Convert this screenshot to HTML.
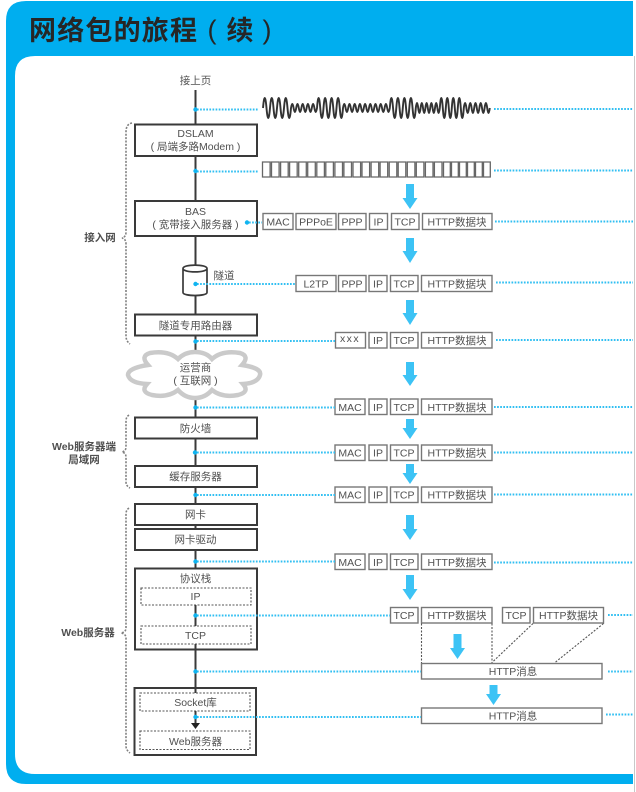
<!DOCTYPE html>
<html><head><meta charset="utf-8"><style>
html,body{margin:0;padding:0;background:#fff;width:636px;height:792px;overflow:hidden}
svg{display:block}
text{font-family:"Liberation Sans","Noto Sans CJK SC",sans-serif;font-size:10.5px;fill:#505050;text-anchor:middle}
.b{fill:#fff;stroke:#3a3a3a;stroke-width:2}
.d{fill:#fff;stroke:#555;stroke-width:1.1;stroke-dasharray:2 1.5}
.p{fill:#fff;stroke:#777;stroke-width:1.4}
.c{stroke:#30bff2;stroke-width:2;stroke-dasharray:1.7 1.4;fill:none}
.l{stroke:#3a3a3a;stroke-width:2;fill:none}
.br{stroke:#808080;stroke-width:1.6;stroke-dasharray:2 1.4;fill:none}
.o{fill:#10b4f0}
.a{fill:#3cc3f5}
.h{font-weight:bold;fill:#505050}
.t{font-size:27px;font-weight:bold;fill:#262626}
</style></head><body>
<svg width="636" height="792" viewBox="0 0 636 792" xmlns="http://www.w3.org/2000/svg">
<path d="M6 21Q6 1 26 1H633V784H26Q6 784 6 764Z" fill="#00aeef"/>
<path d="M15 76Q15 56 35 56H633V774H35Q15 774 15 754Z" fill="#fff"/>
<rect x="634" y="56" width="1" height="736" fill="#c8c8c8"/>
<text class="t" x="29" y="40" style="text-anchor:start;letter-spacing:1.2px">网络包的旅程</text>
<text class="t" x="212" y="39" style="font-weight:normal">(</text>
<text class="t" x="240" y="40">续</text>
<text class="t" x="267" y="39" style="font-weight:normal">)</text>

<line class="l" x1="195.5" y1="90" x2="195.5" y2="568"/>

<text x="195.5" y="84">接上页</text>
<rect class="b" x="135" y="124.5" width="122" height="31.5"/>
<text x="195.5" y="137">DSLAM</text><text x="195.5" y="150">( 局端多路Modem )</text>
<rect class="b" x="135" y="201" width="122" height="35"/>
<text x="195.5" y="215">BAS</text><text x="195.5" y="228">( 宽带接入服务器 )</text>
<path d="M183 268.5V292.5C183 296.5 207 296.5 207 292.5V268.5C207 264 183 264 183 268.5ZM183 268.5C183 273 207 273 207 268.5" fill="#fff" stroke="#3a3a3a" stroke-width="1.7"/>
<text x="224" y="279">隧道</text>
<rect class="b" x="135" y="314.5" width="122" height="21"/>
<text x="195.5" y="329">隧道专用路由器</text>
<path d="M195 352Q206 352 212 359Q222 350 240 353Q250 356 242 365Q262 368 260 375Q258 383 243 384Q250 392 238 395Q222 398 212 390Q205 398 195 398Q185 398 178 390Q168 398 152 395Q140 392 147 384Q130 383 128 375Q128 368 148 365Q140 356 150 353Q168 350 178 359Q185 352 195 352Z" fill="#fff" stroke="#cacaca" stroke-width="4.5"/>
<text x="195.5" y="371">运营商</text><text x="195.5" y="384">( 互联网 )</text>
<rect class="b" x="135" y="417.5" width="122" height="21"/>
<text x="195.5" y="432">防火墙</text>
<rect class="b" x="135" y="466" width="122" height="21"/>
<text x="195.5" y="480">缓存服务器</text>
<rect class="b" x="135" y="504" width="122" height="21"/>
<text x="195.5" y="518">网卡</text>
<rect class="b" x="135" y="529" width="122" height="21"/>
<text x="195.5" y="543">网卡驱动</text>
<rect class="b" x="135" y="568.5" width="122" height="81"/>
<text x="195.5" y="582">协议栈</text>
<rect class="d" x="141" y="588" width="110" height="17"/>
<text x="195.5" y="600">IP</text>
<rect class="d" x="141" y="626" width="110" height="18"/>
<text x="195.5" y="639">TCP</text>
<rect class="b" x="134.5" y="688" width="121.5" height="67"/>
<rect class="d" x="140" y="693" width="110" height="18"/>
<text x="195.5" y="706">Socket库</text>
<rect class="d" x="140" y="731" width="110" height="18.5"/>
<text x="195.5" y="745">Web服务器</text>
<line class="l" x1="195.5" y1="605" x2="195.5" y2="626"/>
<line class="l" x1="195.5" y1="644" x2="195.5" y2="693"/>
<line class="l" x1="195.5" y1="711" x2="195.5" y2="723"/>
<path d="M191 723H200L195.5 729Z" fill="#222"/>

<path class="br" d="M132 123Q126 124 126 132V232Q126 237 122 238Q126 239 126 244V336Q126 341 130 344"/>
<path class="br" d="M129 415Q126 417 126 421V447Q126 451 122 452Q126 453 126 457V482Q126 486 130 488"/>
<path class="br" d="M129 508Q126 510 126 514V628Q126 632 121 633Q126 634 126 638V746Q126 750 130 753"/>
<text class="h" x="100" y="241">接入网</text>
<text class="h" x="84" y="450">Web服务器端</text>
<text class="h" x="84" y="463">局域网</text>
<text class="h" x="88" y="636">Web服务器</text>

<path d="M263 108q1.75 -20 3.5 0t3.5 0t3.5 0t3.5 0t3.5 0t3.5 0t3.5 0t3.5 0q1.3 -8 2.6 0t2.6 0t2.6 0t2.6 0t2.6 0t2.6 0t2.6 0t2.6 0t2.6 0t2.6 0q1.6 -20 3.25 0t3.25 0t3.25 0t3.25 0t3.25 0t3.25 0t3.25 0t3.25 0q1.3 -8 2.6 0t2.6 0t2.6 0t2.6 0t2.6 0t2.6 0t2.6 0t2.6 0t2.6 0t2.6 0t2.6 0t2.6 0t2.6 0t2.6 0t2.6 0t2.6 0t2.6 0t2.6 0q1.6 -20 3.25 0t3.25 0t3.25 0t3.25 0t3.25 0t3.25 0t3.25 0t3.25 0q1.2 -10 2.4 0t2.4 0t2.4 0t2.4 0t2.4 0t2.4 0t2.4 0t2.4 0t2.4 0t2.4 0q1.5 -20 3 0t3 0t3 0t3 0t3 0t3 0t3 0t3 0q1.3 -10 2.6 0t2.6 0t2.6 0t2.6 0t2.6 0t2.6 0t2.6 0t2.6 0t2.6 0t2.6 0" fill="none" stroke="#333" stroke-width="1.9"/>

<path d="M262.5 162h7.6v15h-7.6zM271.5 162h7.6v15h-7.6zM280.6 162h7.6v15h-7.6zM289.6 162h7.6v15h-7.6zM298.7 162h7.6v15h-7.6zM307.7 162h7.6v15h-7.6zM316.8 162h7.6v15h-7.6zM325.8 162h7.6v15h-7.6zM334.9 162h7.6v15h-7.6zM343.9 162h7.6v15h-7.6zM353 162h7.6v15h-7.6zM362 162h7.6v15h-7.6zM371.1 162h7.6v15h-7.6zM380.1 162h7.6v15h-7.6zM389.2 162h7.6v15h-7.6zM398.2 162h7.6v15h-7.6zM407.3 162h7.6v15h-7.6zM416.3 162h7.6v15h-7.6zM425.4 162h7.6v15h-7.6zM434.4 162h7.6v15h-7.6zM443.5 162h6.8v15h-6.8zM451.5 162h6.8v15h-6.8zM459.5 162h6.8v15h-6.8zM467.5 162h6.8v15h-6.8zM475.5 162h6.8v15h-6.8zM483.5 162h6.8v15h-6.8z" fill="#fff" stroke="#666" stroke-width="1.3"/>

<g>
<rect class="p" x="263" y="213.5" width="30" height="16"/><text x="278" y="225.5">MAC</text>
<rect class="p" x="296" y="213.5" width="40" height="16"/><text x="316" y="225.5">PPPoE</text>
<rect class="p" x="338.5" y="213.5" width="27.5" height="16"/><text x="352" y="225.5">PPP</text>
<rect class="p" x="369.5" y="213.5" width="18" height="16"/><text x="378.5" y="225.5">IP</text>
<rect class="p" x="391.5" y="213.5" width="27.5" height="16"/><text x="405" y="225.5">TCP</text>
<rect class="p" x="422.5" y="213.5" width="69.5" height="16"/><text x="457" y="225.5">HTTP数据块</text>

<rect class="p" x="296" y="275.5" width="40" height="16"/><text x="316" y="287.5">L2TP</text>
<rect class="p" x="338.5" y="275.5" width="27.5" height="16"/><text x="352" y="287.5">PPP</text>
<rect class="p" x="369" y="275.5" width="18" height="16"/><text x="378" y="287.5">IP</text>
<rect class="p" x="390.5" y="275.5" width="27.5" height="16"/><text x="404" y="287.5">TCP</text>
<rect class="p" x="421.5" y="275.5" width="70.5" height="16"/><text x="457" y="287.5">HTTP数据块</text>

<rect class="p" x="335.5" y="332.5" width="30" height="15.5"/><text x="350" y="342" style="letter-spacing:1.4px">xxx</text>
<rect class="p" x="369" y="332.5" width="18" height="15.5"/><text x="378" y="344">IP</text>
<rect class="p" x="390.5" y="332.5" width="27.5" height="15.5"/><text x="404" y="344">TCP</text>
<rect class="p" x="421.5" y="332.5" width="70.5" height="15.5"/><text x="457" y="344">HTTP数据块</text>

<rect class="p" x="335" y="399" width="30" height="15.5"/><text x="350" y="411">MAC</text>
<rect class="p" x="369" y="399" width="18" height="15.5"/><text x="378" y="411">IP</text>
<rect class="p" x="390.5" y="399" width="27.5" height="15.5"/><text x="404" y="411">TCP</text>
<rect class="p" x="421.5" y="399" width="70.5" height="15.5"/><text x="457" y="411">HTTP数据块</text>

<rect class="p" x="335" y="445" width="30" height="15.5"/><text x="350" y="456.500">MAC</text>
<rect class="p" x="369" y="445" width="18" height="15.5"/><text x="378" y="456.500">IP</text>
<rect class="p" x="390.5" y="445" width="27.5" height="15.5"/><text x="404" y="456.500">TCP</text>
<rect class="p" x="421.5" y="445" width="70.5" height="15.5"/><text x="457" y="456.500">HTTP数据块</text>

<rect class="p" x="335" y="487" width="30" height="15.5"/><text x="350" y="498.500">MAC</text>
<rect class="p" x="369" y="487" width="18" height="15.5"/><text x="378" y="498.500">IP</text>
<rect class="p" x="390.5" y="487" width="27.5" height="15.5"/><text x="404" y="498.500">TCP</text>
<rect class="p" x="421.5" y="487" width="70.5" height="15.5"/><text x="457" y="498.500">HTTP数据块</text>

<rect class="p" x="335" y="554" width="30" height="15.5"/><text x="350" y="566">MAC</text>
<rect class="p" x="369" y="554" width="18" height="15.5"/><text x="378" y="566">IP</text>
<rect class="p" x="390.5" y="554" width="27.5" height="15.5"/><text x="404" y="566">TCP</text>
<rect class="p" x="421.5" y="554" width="70.5" height="15.5"/><text x="457" y="566">HTTP数据块</text>

<rect class="p" x="390.5" y="607.5" width="27.5" height="15.5"/><text x="404" y="619">TCP</text>
<rect class="p" x="421.5" y="607.5" width="70.5" height="15.5"/><text x="457" y="619">HTTP数据块</text>
<rect class="p" x="502.5" y="607.5" width="27.5" height="15.5"/><text x="516" y="619">TCP</text>
<rect class="p" x="533.5" y="607.5" width="70" height="15.5"/><text x="568.500" y="619">HTTP数据块</text>

<path d="M421.500 623.500V663M492 623.500V663M533 623.500L492 662.500M603.500 623.500L555 662.500" stroke="#555" stroke-width="1.1" stroke-dasharray="2 1.5" fill="none"/>
<rect class="p" x="421.500" y="663.500" width="180.500" height="15.500"/><text x="513" y="675">HTTP消息</text>
<rect class="p" x="421.500" y="708" width="180.500" height="15.500"/><text x="513" y="719.500">HTTP消息</text>
</g>

<g>
<path class="c" d="M197 109.500H258M494 109H633M197 171.500H258M494 170.500H633M249 222.500H262M495 221.500H633M197 284H296M496 282.500H633M197 341H335M496 340H633M197 407.500H335M494 407H633M197 452.500H335M494 452.500H633M197 495H335M494 494.500H633M197 561.500H335M494 562.500H633M197 615.500H390M608 615H633M197 671.500H421M608 671.500H633M197 717H421M606 714.500H633"/>
<circle class="o" cx="195.500" cy="109.500" r="2.200"/>
<circle class="o" cx="195.500" cy="171" r="2.200"/>
<circle class="o" cx="247" cy="222.500" r="2.200"/>
<circle class="o" cx="195.500" cy="284" r="2.200"/>
<circle class="o" cx="195.500" cy="341.500" r="2.200"/>
<circle class="o" cx="195.500" cy="407.500" r="2.200"/>
<circle class="o" cx="195" cy="452.500" r="2.200"/>
<circle class="o" cx="195.500" cy="495" r="2.200"/>
<circle class="o" cx="195.500" cy="561.500" r="2.200"/>
<circle class="o" cx="195.500" cy="615.500" r="2.200"/>
<circle class="o" cx="195.500" cy="671.500" r="2.200"/>
<circle class="o" cx="195.500" cy="717" r="2.200"/>
</g>

<g>
<path class="a" d="M406 184h8v14h3.500l-7.500 11l-7.500-11h3.500z"/>
<path class="a" d="M406 238h8v13h3.500l-7.500 12l-7.500-12h3.500z"/>
<path class="a" d="M406 300h8v13h3.500l-7.500 12l-7.500-12h3.500z"/>
<path class="a" d="M406 362h8v13h3.500l-7.500 11l-7.500-11h3.500z"/>
<path class="a" d="M406 419h8v9h3.500l-7.500 11l-7.500-11h3.500z"/>
<path class="a" d="M406 464h8v9h3.500l-7.500 11l-7.500-11h3.500z"/>
<path class="a" d="M406 515h8v14h3.500l-7.500 11l-7.500-11h3.500z"/>
<path class="a" d="M406 575h8v14h3.500l-7.500 11l-7.500-11h3.500z"/>
<path class="a" d="M453.500 634h8v14h3.500l-7.500 11l-7.500-11h3.500z"/>
<path class="a" d="M489.500 685h8v9h3.500l-7.500 11l-7.500-11h3.500z"/>
</g>
</svg>
</body></html>
